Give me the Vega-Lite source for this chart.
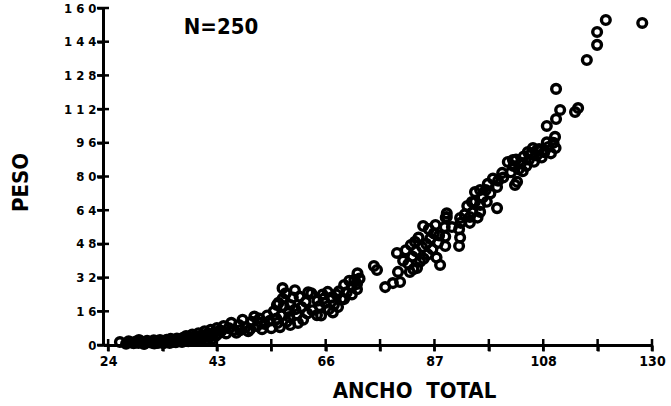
{
  "$schema": "https://vega.github.io/schema/vega-lite/v6.json",
  "width": 549,
  "height": 337,
  "autosize": "none",
  "padding": {"left": 103, "top": 8, "right": 19, "bottom": 61},
  "background": "white",
  "config": {
    "view": {"stroke": null},
    "axis": {
      "labelFont": "DejaVu Sans Condensed, Liberation Sans Narrow, DejaVu Sans, sans-serif",
      "titleFont": "DejaVu Sans Condensed, Liberation Sans Narrow, DejaVu Sans, sans-serif",
      "labelFontWeight": "bold",
      "titleFontWeight": "bold",
      "labelColor": "black",
      "titleColor": "black",
      "domainColor": "black",
      "tickColor": "black",
      "labelOverlap": false,
      "labelFlush": false,
      "labelBound": false,
      "grid": false
    }
  },
  "datasets": {
    "pts": [
      {"ancho":26.3,"peso":1.4},{"ancho":27.5,"peso":0.6},{"ancho":28.0,"peso":1.8},{"ancho":28.5,"peso":1.2},{"ancho":29.0,"peso":0.8},{"ancho":29.4,"peso":1.6},{"ancho":29.9,"peso":1.0},{"ancho":30.0,"peso":2.4},{"ancho":30.3,"peso":1.9},{"ancho":30.8,"peso":1.2},
      {"ancho":31.0,"peso":0.5},{"ancho":31.2,"peso":0.9},{"ancho":31.6,"peso":2.0},{"ancho":32.0,"peso":1.4},{"ancho":32.5,"peso":1.1},{"ancho":32.9,"peso":2.2},{"ancho":33.0,"peso":0.7},{"ancho":33.3,"peso":1.5},{"ancho":33.7,"peso":1.0},{"ancho":34.1,"peso":2.3},
      {"ancho":34.5,"peso":1.7},{"ancho":34.8,"peso":0.8},{"ancho":35.0,"peso":1.3},{"ancho":35.4,"peso":2.5},{"ancho":35.8,"peso":1.8},{"ancho":36.0,"peso":1.0},{"ancho":36.2,"peso":2.9},{"ancho":36.6,"peso":1.5},{"ancho":37.0,"peso":2.2},{"ancho":37.2,"peso":1.3},
      {"ancho":37.4,"peso":3.0},{"ancho":37.8,"peso":2.0},{"ancho":38.2,"peso":2.6},{"ancho":38.4,"peso":1.5},{"ancho":38.6,"peso":3.4},{"ancho":39.0,"peso":2.2},{"ancho":39.2,"peso":4.2},{"ancho":39.4,"peso":3.0},{"ancho":39.6,"peso":1.8},{"ancho":39.8,"peso":3.8},
      {"ancho":40.2,"peso":2.6},{"ancho":40.4,"peso":5.0},{"ancho":40.6,"peso":3.5},{"ancho":40.8,"peso":2.0},{"ancho":41.0,"peso":4.3},{"ancho":41.4,"peso":3.0},{"ancho":41.6,"peso":5.6},{"ancho":41.8,"peso":3.8},{"ancho":42.0,"peso":2.3},{"ancho":42.2,"peso":4.6},
      {"ancho":42.6,"peso":3.4},{"ancho":42.8,"peso":6.5},{"ancho":43.0,"peso":4.2},{"ancho":43.2,"peso":2.6},{"ancho":43.4,"peso":5.4},{"ancho":43.8,"peso":3.9},{"ancho":44.0,"peso":7.2},{"ancho":44.2,"peso":4.8},{"ancho":44.4,"peso":3.0},{"ancho":44.6,"peso":5.8},
      {"ancho":45.0,"peso":4.4},{"ancho":45.2,"peso":8.0},{"ancho":45.4,"peso":5.3},{"ancho":45.8,"peso":7.0},
      {"ancho":46.0,"peso":6.5},{"ancho":46.5,"peso":9.0},{"ancho":47.0,"peso":5.5},{"ancho":47.5,"peso":8.0},{"ancho":48.0,"peso":10.5},{"ancho":48.5,"peso":7.0},{"ancho":49.0,"peso":5.8},{"ancho":49.5,"peso":9.5},{"ancho":49.7,"peso":7.0},{"ancho":50.2,"peso":12.0},
      {"ancho":50.8,"peso":8.5},{"ancho":51.3,"peso":6.5},{"ancho":51.7,"peso":7.6},{"ancho":52.0,"peso":11.0},{"ancho":52.5,"peso":13.5},{"ancho":53.0,"peso":9.0},{"ancho":53.5,"peso":12.5},{"ancho":53.8,"peso":10.5},{"ancho":54.0,"peso":7.5},{"ancho":54.5,"peso":10.0},
      {"ancho":55.0,"peso":14.0},{"ancho":55.5,"peso":11.5},{"ancho":55.8,"peso":8.0},
      {"ancho":56.3,"peso":16.0},{"ancho":56.8,"peso":12.5},{"ancho":56.9,"peso":19.0},{"ancho":57.0,"peso":10.5},{"ancho":57.2,"peso":20.0},{"ancho":57.5,"peso":8.5},{"ancho":57.8,"peso":14.0},{"ancho":58.0,"peso":27.0},{"ancho":58.0,"peso":22.0},{"ancho":58.2,"peso":18.5},
      {"ancho":58.6,"peso":24.5},{"ancho":58.8,"peso":11.0},{"ancho":59.2,"peso":16.0},{"ancho":59.3,"peso":13.3},{"ancho":59.5,"peso":9.5},{"ancho":59.5,"peso":19.0},{"ancho":60.0,"peso":22.5},{"ancho":60.4,"peso":26.0},{"ancho":60.5,"peso":17.0},{"ancho":60.8,"peso":14.5},
      {"ancho":61.0,"peso":10.5},{"ancho":61.3,"peso":23.0},{"ancho":61.7,"peso":18.0},{"ancho":62.0,"peso":12.0},{"ancho":62.5,"peso":20.5},{"ancho":62.8,"peso":15.0},{"ancho":63.0,"peso":25.0},{"ancho":63.6,"peso":24.5},{"ancho":63.8,"peso":16.5},{"ancho":64.7,"peso":14.2},
      {"ancho":64.8,"peso":21.0},{"ancho":65.2,"peso":18.5},{"ancho":65.5,"peso":14.0},{"ancho":65.8,"peso":24.0},{"ancho":66.0,"peso":22.0},{"ancho":66.3,"peso":20.0},{"ancho":66.8,"peso":25.2},{"ancho":67.0,"peso":17.0},{"ancho":67.5,"peso":22.5},{"ancho":67.8,"peso":15.5},
      {"ancho":68.0,"peso":19.0},{"ancho":68.5,"peso":24.0},{"ancho":68.8,"peso":18.0},{"ancho":69.0,"peso":25.5},{"ancho":69.5,"peso":22.0},{"ancho":70.0,"peso":21.8},{"ancho":70.0,"peso":28.5},{"ancho":70.5,"peso":25.0},{"ancho":71.0,"peso":30.5},{"ancho":71.5,"peso":27.5},
      {"ancho":71.5,"peso":24.0},{"ancho":72.0,"peso":31.0},{"ancho":72.5,"peso":29.0},{"ancho":72.5,"peso":26.5},{"ancho":73.0,"peso":31.5},{"ancho":72.6,"peso":34.0},
      {"ancho":75.8,"peso":37.5},{"ancho":76.4,"peso":35.6},
      {"ancho":78.0,"peso":27.5},{"ancho":79.5,"peso":29.4},{"ancho":80.5,"peso":34.7},{"ancho":80.9,"peso":29.9},{"ancho":82.8,"peso":34.7},{"ancho":84.2,"peso":36.6},{"ancho":80.3,"peso":43.7},{"ancho":81.5,"peso":40.0},{"ancho":82.0,"peso":45.0},{"ancho":82.5,"peso":38.5},
      {"ancho":83.0,"peso":47.5},{"ancho":83.3,"peso":42.0},{"ancho":83.5,"peso":36.0},{"ancho":83.8,"peso":49.0},{"ancho":84.0,"peso":44.5},{"ancho":84.5,"peso":51.0},{"ancho":84.8,"peso":39.5},{"ancho":85.2,"peso":46.5},{"ancho":85.4,"peso":56.5},{"ancho":85.5,"peso":41.0},
      {"ancho":86.0,"peso":48.0},{"ancho":86.3,"peso":43.0},{"ancho":86.5,"peso":55.0},{"ancho":86.8,"peso":50.5},{"ancho":87.2,"peso":45.5},{"ancho":87.5,"peso":53.0},{"ancho":87.8,"peso":57.0},{"ancho":88.0,"peso":41.5},{"ancho":88.3,"peso":48.5},{"ancho":88.5,"peso":52.0},
      {"ancho":88.7,"peso":38.0},
      {"ancho":89.7,"peso":47.0},{"ancho":89.7,"peso":51.5},{"ancho":89.6,"peso":56.0},{"ancho":89.8,"peso":60.5},{"ancho":90.0,"peso":62.5},{"ancho":91.0,"peso":56.0},{"ancho":92.4,"peso":47.0},{"ancho":92.6,"peso":51.0},{"ancho":92.4,"peso":55.0},{"ancho":92.7,"peso":58.0},
      {"ancho":90.0,"peso":60.8},{"ancho":92.6,"peso":60.3},{"ancho":93.5,"peso":62.0},{"ancho":94.0,"peso":66.0},{"ancho":94.5,"peso":58.0},{"ancho":94.5,"peso":60.8},{"ancho":94.9,"peso":67.9},{"ancho":95.0,"peso":63.0},{"ancho":95.5,"peso":68.0},{"ancho":95.5,"peso":72.6},
      {"ancho":96.0,"peso":60.5},{"ancho":96.5,"peso":63.2},{"ancho":96.5,"peso":66.5},{"ancho":96.5,"peso":73.6},{"ancho":97.0,"peso":70.0},{"ancho":97.6,"peso":73.6},{"ancho":97.8,"peso":68.0},{"ancho":98.0,"peso":76.5},{"ancho":98.5,"peso":72.0},{"ancho":99.0,"peso":79.0},
      {"ancho":99.8,"peso":65.0},{"ancho":99.8,"peso":75.0},{"ancho":100.0,"peso":78.0},{"ancho":100.8,"peso":81.7},{"ancho":101.0,"peso":79.5},{"ancho":101.9,"peso":86.9},{"ancho":103.3,"peso":76.0},{"ancho":103.7,"peso":77.5},
      {"ancho":102.5,"peso":82.0},{"ancho":102.9,"peso":87.8},{"ancho":103.0,"peso":85.0},{"ancho":103.5,"peso":88.0},{"ancho":104.0,"peso":83.5},{"ancho":104.5,"peso":86.5},{"ancho":104.8,"peso":82.5},{"ancho":105.0,"peso":89.5},{"ancho":105.5,"peso":85.0},{"ancho":105.8,"peso":91.6},
      {"ancho":106.0,"peso":88.0},{"ancho":106.5,"peso":91.0},{"ancho":106.8,"peso":93.5},{"ancho":107.0,"peso":87.0},{"ancho":107.5,"peso":90.0},{"ancho":107.6,"peso":92.6},{"ancho":108.0,"peso":93.0},{"ancho":108.5,"peso":89.0},{"ancho":109.0,"peso":91.5},{"ancho":109.5,"peso":96.2},
      {"ancho":109.8,"peso":94.0},{"ancho":110.3,"peso":91.0},{"ancho":110.8,"peso":96.0},{"ancho":111.1,"peso":98.8},{"ancho":111.2,"peso":93.5},
      {"ancho":109.5,"peso":104.0},{"ancho":111.3,"peso":107.3},{"ancho":112.1,"peso":111.6},{"ancho":111.3,"peso":121.6},{"ancho":115.0,"peso":110.6},{"ancho":115.6,"peso":112.5},{"ancho":117.3,"peso":135.3},{"ancho":119.3,"peso":142.5},{"ancho":119.3,"peso":148.6},{"ancho":121.0,"peso":154.3},
      {"ancho":128.1,"peso":152.9}
    ],
    "xticks": [{"v":24},{"v":34.6},{"v":45.2},{"v":55.8},{"v":66.4},{"v":77},{"v":87.6},{"v":98.2},{"v":108.8},{"v":119.4},{"v":130}],
    "yticks": [{"v":0},{"v":16},{"v":32},{"v":48},{"v":64},{"v":80},{"v":96},{"v":112},{"v":128},{"v":144},{"v":160}],
    "note": [{"label": "N=250", "x": 46, "y": 151}]
  },
  "layer": [
    {
      "data": {"name": "pts"},
      "mark": {"type": "point", "shape": "circle", "filled": false, "stroke": "black", "strokeWidth": 3.4, "size": 76, "opacity": 1},
      "encoding": {
        "x": {
          "field": "ancho", "type": "quantitative",
          "scale": {"domain": [23, 130], "nice": false, "zero": false},
          "axis": {
            "orient": "bottom",
            "values": [24, 34.6, 45.2, 55.8, 66.4, 77, 87.6, 98.2, 108.8, 119.4, 130],
            "labelExpr": "['24','','43','','66','','87','','108','','130'][round((datum.value-24)/10.6)]",
            "labelFontSize": 14,
            "labelPadding": 3,
            "labelOverlap": false,
            "tickSize": 6,
            "tickWidth": 2.5,
            "domainWidth": 3,
            "title": "ANCHO\u00a0\u00a0TOTAL",
            "titleFontSize": 22,
            "titleX": 311,
            "titleY": 35,
            "titleBaseline": "top",
            "titleAlign": "center"
          }
        },
        "y": {
          "field": "peso", "type": "quantitative",
          "scale": {"domain": [0, 160], "nice": false},
          "axis": {
            "orient": "left",
            "values": [0, 16, 32, 48, 64, 80, 96, 112, 128, 144, 160],
            "labelExpr": "join(split(datum.label,''),' ')",
            "labelFontSize": 13,
            "labelPadding": 1,
            "labelOverlap": false,
            "tickSize": 6,
            "tickWidth": 2.5,
            "domainWidth": 3,
            "title": "PESO",
            "titleFontSize": 22,
            "titleAngle": -90,
            "titleX": -83,
            "titleY": 174,
            "titleBaseline": "middle",
            "titleAlign": "center"
          }
        }
      }
    },
    {
      "data": {"name": "xticks"},
      "mark": {"type": "tick", "orient": "vertical", "size": 12, "thickness": 2.5, "color": "black", "opacity": 1},
      "encoding": {
        "x": {"field": "v", "type": "quantitative", "axis": null},
        "y": {"datum": 0, "type": "quantitative", "axis": null}
      }
    },
    {
      "data": {"name": "yticks"},
      "mark": {"type": "tick", "orient": "horizontal", "size": 12, "thickness": 2.5, "color": "black", "opacity": 1},
      "encoding": {
        "x": {"datum": 23, "type": "quantitative", "axis": null},
        "y": {"field": "v", "type": "quantitative", "axis": null}
      }
    },
    {
      "data": {"name": "note"},
      "mark": {"type": "text", "fontSize": 22, "fontWeight": "bold", "font": "DejaVu Sans Condensed, Liberation Sans Narrow, DejaVu Sans, sans-serif", "color": "black", "align": "center", "baseline": "middle"},
      "encoding": {
        "x": {"field": "x", "type": "quantitative", "axis": null},
        "y": {"field": "y", "type": "quantitative", "axis": null},
        "text": {"field": "label"}
      }
    }
  ],
  "resolve": {"axis": {"x": "independent", "y": "independent"}}
}
